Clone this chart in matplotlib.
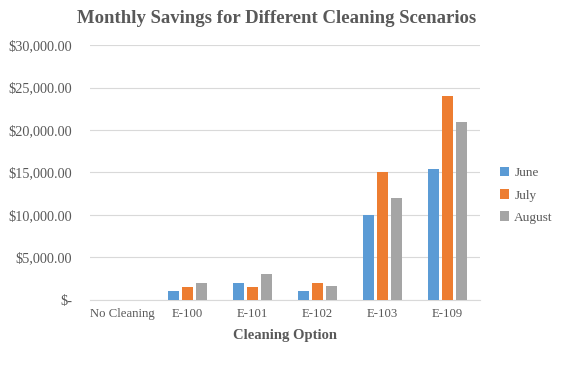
import numpy as np
import matplotlib
matplotlib.use("Agg")
import matplotlib.pyplot as plt
from matplotlib.ticker import FuncFormatter

categories = ["No Cleaning", "E-100", "E-101", "E-102", "E-103", "E-109"]
june = [0, 1000, 2000, 1000, 10000, 15400]
july = [0, 1500, 1500, 2000, 15000, 24000]
august = [0, 2000, 3000, 1600, 12000, 21000]
series_names = ["June", "July", "August"]
colors = ["#5B9BD5", "#ED7D31", "#A5A5A5"]

plt.rcParams['font.family'] = ['Liberation Serif', 'DejaVu Serif']

fig = plt.figure(figsize=(5.77, 3.67), dpi=100)
ax = fig.add_axes([0.156, 0.183, 0.676, 0.694])

x = np.arange(len(categories))
width = 0.17
step = 0.215
for i, (vals, name, c) in enumerate(zip([june, july, august], series_names, colors)):
    ax.bar(x + (i - 1) * step, vals, width, color=c, label=name, zorder=3)

ax.set_xlim(-0.5, len(categories) - 0.5)
ax.set_ylim(0, 30000)
ax.set_yticks(np.arange(0, 30001, 5000))


def money(v, pos):
    if v == 0:
        return "$-"
    return "${:,.2f}".format(v)


ax.yaxis.set_major_formatter(FuncFormatter(money))
ax.set_xticks(x)
ax.set_xticklabels(categories)
ax.tick_params(axis='both', length=0, colors="#595959")
ax.tick_params(axis='y', pad=13, labelsize=10.3)
ax.tick_params(axis='x', pad=6, labelsize=9.2)
ax.grid(axis='y', color="#D9D9D9", linewidth=0.8, zorder=0)
for s in ["top", "right", "left"]:
    ax.spines[s].set_visible(False)
ax.spines["bottom"].set_color("#D9D9D9")

ax.set_xlabel("Cleaning Option", fontsize=10.5, fontweight="bold", color="#595959", labelpad=6)
fig.suptitle("Monthly Savings for Different Cleaning Scenarios", x=0.48, y=0.972,
             fontsize=13.5, fontweight="bold", color="#595959")

leg = ax.legend(loc="center left", bbox_to_anchor=(1.02, 0.41), frameon=False,
                fontsize=9.5, handlelength=0.7, handleheight=0.7, handletextpad=0.4,
                labelspacing=0.75)
for t in leg.get_texts():
    t.set_color("#595959")

fig.savefig("out.png", dpi=100)
